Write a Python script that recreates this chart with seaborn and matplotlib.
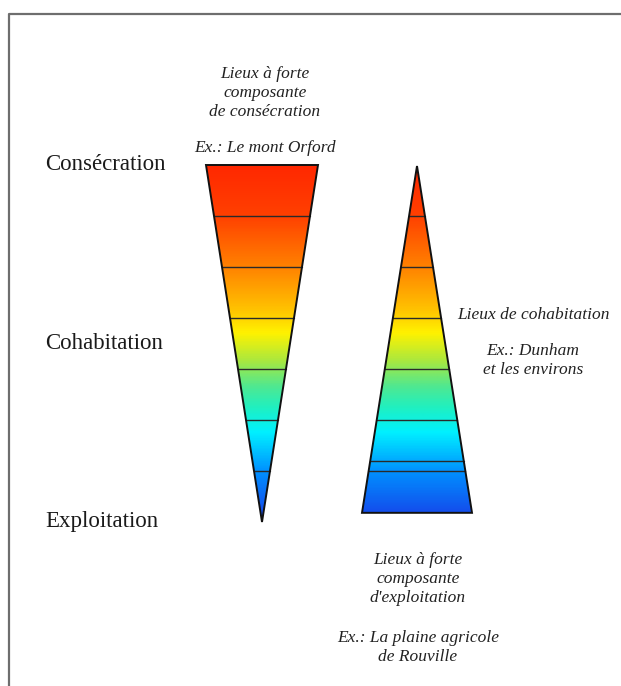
import numpy as np
import matplotlib.pyplot as plt
from matplotlib.patches import Polygon
from matplotlib.colors import LinearSegmentedColormap
import seaborn as sns

# Levels of the scale (left labels), in band units from the top of the triangles
levels = ['Consécration', 'Cohabitation', 'Exploitation']
level_bands = [0.1, 3.6, 7.1]

# Triangles: left narrows to a point, right widens
left_top_width = 112
left_apex_band = 7.0
left_lines = [1, 2, 3, 4, 5, 6]

right_base_width = 110
right_base_band = 6.82
right_lines = [1, 2, 3, 4, 5, 5.8, 6]

# Colour ramp, red (consécration) to blue (exploitation)
ramp_stops = [0.0, 0.14, 0.28, 0.40, 0.47, 0.55, 0.62, 0.68, 0.75, 0.86, 1.0]
ramp_colors = ['#ff2800', '#ff4000', '#ff8000', '#ffc000', '#fff200', '#a8e840',
               '#50e890', '#20f0c0', '#00f0ff', '#0090ff', '#1840e8']

# Annotations
top_note = 'Lieux à forte\ncomposante\nde consécration'
top_example = 'Ex.: Le mont Orford'
mid_note = 'Lieux de cohabitation'
mid_example = 'Ex.: Dunham\net les environs'
bottom_note = 'Lieux à forte\ncomposante\nd\'exploitation'
bottom_example = 'Ex.: La plaine agricole\nde Rouville'

sns.set_theme(style='white')
plt.rcParams['font.family'] = ['Liberation Serif', 'DejaVu Serif']

W, H = 621, 686
top_px, band_px = 165, 51
left_cx, right_cx = 262, 417


def band_y(b):
    return top_px + band_px * b


fig = plt.figure(figsize=(W / 100, H / 100), dpi=100)
ax = fig.add_axes([0, 0, 1, 1])
ax.set_xlim(0, W)
ax.set_ylim(H, 0)
ax.axis('off')

cmap = LinearSegmentedColormap.from_list('ramp', list(zip(ramp_stops, ramp_colors)))
grad = np.linspace(0, 1, 400).reshape(-1, 1)
y0, y1 = band_y(0), band_y(7)

# frame (top and left edges)
ax.plot([9, 9, W], [H, 14, 14], color='#6e6e6e', lw=1.6, solid_capstyle='butt')


def draw_triangle(verts, width_at, lines, x_c):
    poly = Polygon(verts, closed=True, facecolor='none', edgecolor='#111111', lw=1.4, zorder=3)
    ax.add_patch(poly)
    xs = [v[0] for v in verts]
    im = ax.imshow(grad, cmap=cmap, aspect='auto', origin='upper',
                   extent=[min(xs), max(xs), y1, y0], zorder=1)
    im.set_clip_path(poly)
    for b in lines:
        hw = width_at(b) / 2
        ax.plot([x_c - hw, x_c + hw], [band_y(b), band_y(b)], color='#2a2a2a', lw=1.0, zorder=2)


# left triangle
draw_triangle([(left_cx - left_top_width / 2, band_y(0)), (left_cx + left_top_width / 2, band_y(0)),
               (left_cx, band_y(left_apex_band))],
              lambda b: left_top_width * (1 - b / left_apex_band), left_lines, left_cx)

# right triangle
draw_triangle([(right_cx, band_y(0.02)), (right_cx + right_base_width / 2, band_y(right_base_band)),
               (right_cx - right_base_width / 2, band_y(right_base_band))],
              lambda b: right_base_width * b / right_base_band, right_lines, right_cx)

for name, b in zip(levels, level_bands):
    ax.text(45, band_y(b), name, fontsize=16.5, color='#1a1a1a', ha='left', va='baseline')

ital = dict(fontsize=12.5, style='italic', color='#222222', ha='center', va='baseline', linespacing=1.25)
ax.text(265, 116, top_note, **ital)
ax.text(265, 152, top_example, **ital)
ax.text(533, 319, mid_note, **ital)
ax.text(533, 374, mid_example, **ital)
ax.text(418, 602, bottom_note, **ital)
ax.text(418, 661, bottom_example, **ital)

fig.savefig('out.png', dpi=100, facecolor='white')
